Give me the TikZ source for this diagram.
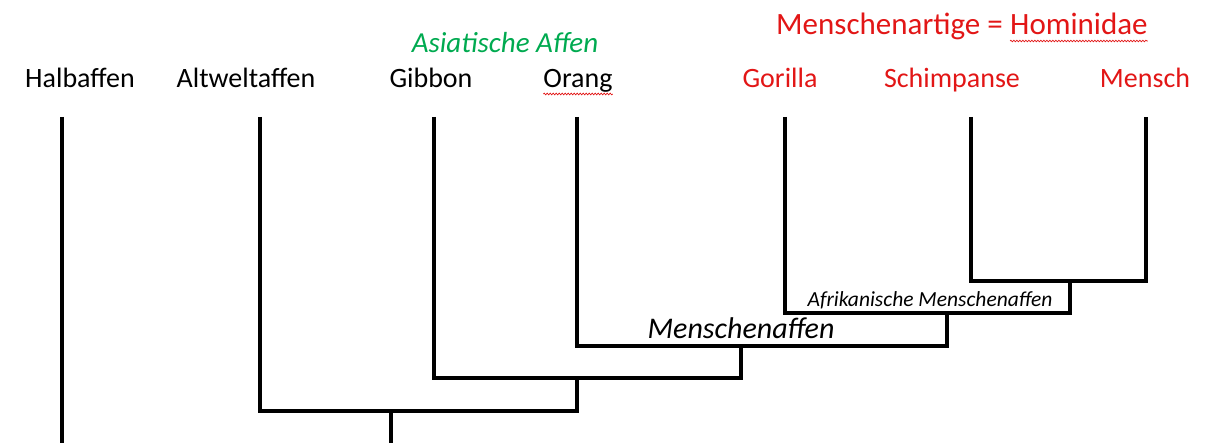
\documentclass[tikz,border=0pt]{standalone}
\usepackage{fontspec}
\setmainfont{Carlito}
\usetikzlibrary{decorations.pathmorphing}
\definecolor{hominred}{RGB}{226,22,22}
\definecolor{asiagreen}{RGB}{0,170,80}
\begin{document}
\begin{tikzpicture}[x=1pt,y=-1pt,
  taxon/.style={anchor=base, inner sep=0pt, font=\fontsize{28}{32}\selectfont},
  hominid/.style={taxon, text=hominred},
  clade/.style={anchor=base, inner sep=0pt, font=\itshape\fontsize{30}{34}\selectfont},
  smallclade/.style={anchor=base, inner sep=0pt, font=\itshape\fontsize{21.5}{24}\selectfont},
  heading/.style={hominid, font=\fontsize{31}{34}\selectfont},
  branch/.style={line width=3.9pt, line join=miter},
  squiggle/.style={hominred, line width=0.7pt, decorate,
    decoration={snake, amplitude=0.8pt, segment length=3pt}}]
\useasboundingbox (0,0) rectangle (1209,443);

% group headings
\node[heading, anchor=base west] (homA) at (776,35) {Menschenartige =};
\node[heading, anchor=base west] (homB) at ([xshift=7pt]homA.base east) {Hominidae};
\node[anchor=base, inner sep=0pt, text=asiagreen, font=\itshape\fontsize{29}{32}\selectfont] (asia) at (505,53) {Asiatische Affen};

% taxa
\node[taxon] (hal) at (80,88) {Halbaffen};
\node[taxon] (alt) at (246,88) {Altweltaffen};
\node[taxon] (gib) at (431,88) {Gibbon};
\node[taxon] (ora) at (578,88) {Orang};
\node[hominid] (gor) at (780,88) {Gorilla};
\node[hominid] (sch) at (952,88) {Schimpanse};
\node[hominid] (men) at (1145,88) {Mensch};

% spell-check underlines
\draw[squiggle] ([yshift=-6pt]ora.base west) -- ([yshift=-6pt]ora.base east);
\draw[squiggle] ([yshift=-6pt]homB.base west) -- ([yshift=-6pt]homB.base east);

% branch tips
\coordinate (tHal) at (62,117);
\coordinate (tAlt) at (260,117);
\coordinate (tGib) at (434,117);
\coordinate (tOra) at (577,117);
\coordinate (tGor) at (785,117);
\coordinate (tSch) at (971,117);
\coordinate (tMen) at (1146,117);

% junctions
\coordinate (jSM) at (1070,281);
\coordinate (jAfr) at (947,313);
\coordinate (jMa) at (741,346);
\coordinate (jGO) at (577,378);
\coordinate (jCat) at (391,411);
\coordinate (bCat) at (391,446);
\coordinate (bHal) at (62,446);

% tree
\draw[branch] (tSch) |- (jSM) -| (tMen);
\draw[branch] (tGor) |- (jAfr) -| (jSM);
\draw[branch] (tOra) |- (jMa) -| (jAfr);
\draw[branch] (tGib) |- (jGO) -| (jMa);
\draw[branch] (tAlt) |- (jCat) -| (jGO);
\draw[branch] (jCat) -- (bCat);
\draw[branch] (tHal) -- (bHal);

% clade labels
\node[smallclade] (afr) at (930,307) {Afrikanische Menschenaffen};
\node[clade] (ma) at (741,338) {Menschenaffen};
\end{tikzpicture}
\end{document}
